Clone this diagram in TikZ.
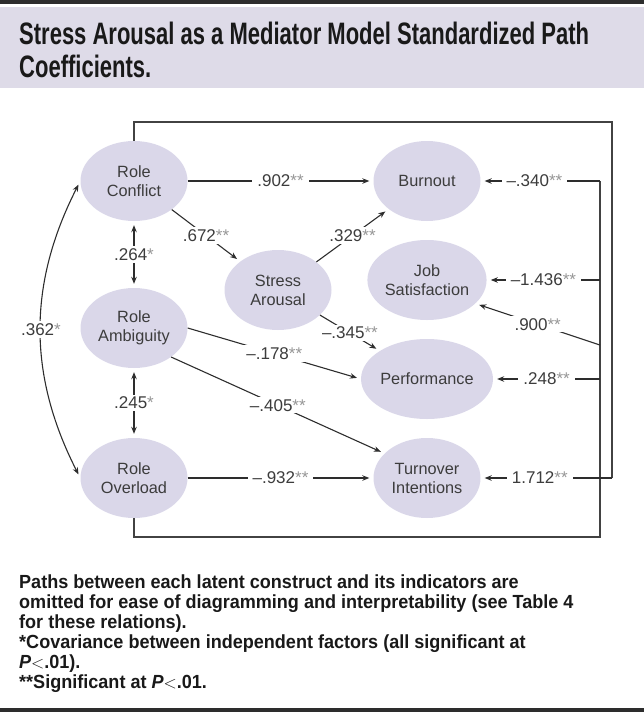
\documentclass[tikz,border=0pt]{standalone}
\usepackage{fontspec}
\setmainfont{Liberation Sans}
\newfontfamily\titlefont[FakeStretch=0.71]{Liberation Sans}
\newfontfamily\capfont[FakeStretch=0.95]{Liberation Sans}
\usetikzlibrary{shapes.geometric,arrows.meta}
\definecolor{band}{RGB}{222,219,232}
\definecolor{ell}{RGB}{218,215,233}
\definecolor{ink}{RGB}{45,45,45}
\definecolor{txt}{RGB}{60,60,60}
\definecolor{stargray}{RGB}{150,150,150}
\newcommand{\sig}[1]{{\color{stargray}#1}}
\begin{document}
\begin{tikzpicture}[x=1pt,y=-1pt,
  lat/.style={ellipse, fill=ell, minimum width=107pt, minimum height=80pt, inner sep=0pt,
    align=center, text=txt, font=\fontsize{16.3}{19}\selectfont},
  lab/.style={fill=white, inner xsep=5pt, inner ysep=2pt, text=txt, font=\fontsize{17}{19}\selectfont},
  arr/.style={draw=ink, line width=1.1pt, -{Stealth[length=7pt,width=5.5pt]}, shorten >=4pt},
  dbl/.style={draw=ink, line width=1.1pt, {Stealth[length=7pt,width=5.5pt]}-{Stealth[length=7pt,width=5.5pt]}, shorten >=4pt, shorten <=4pt},
  frame/.style={draw=ink!90, line width=1.3pt},
  ttl/.style={anchor=base west, inner sep=0pt, text=black!90, font=\titlefont\bfseries\fontsize{31}{32}\selectfont},
  captxt/.style={anchor=base west, inner sep=0pt, text=black!90, font=\capfont\bfseries\fontsize{19}{20}\selectfont}
]
\useasboundingbox (0,0) rectangle (644,713);
\fill[band] (0,7) rectangle (644,88);
\fill[ink] (0,0) rectangle (644,4);
\fill[ink] (0,708) rectangle (644,711.5);

\node[ttl] (title1) at (19,44) {Stress Arousal as a Mediator Model Standardized Path};
\node[ttl] (title2) at (19,77) {Coefficients.};

\node[lat] (RC) at (134,181) {Role\\Conflict};
\node[lat] (RA) at (134,328) {Role\\Ambiguity};
\node[lat] (RO) at (134,478) {Role\\Overload};
\node[lat] (SA) at (278,290) {Stress\\Arousal};
\node[lat] (B)  at (427,181) {Burnout};
\node[lat] (JS) at (427,280) {Job\\Satisfaction};
\node[lat] (P)  at (427,379) {Performance};
\node[lat] (T)  at (427,478) {Turnover\\Intentions};

\coordinate (ot) at (612,122);
\coordinate (ob) at (612,478);
\coordinate (ib) at (600,537);
\coordinate (it) at (600,181);
\coordinate (ij) at (600,345);

\draw[frame] (RC.north) |- (ot) -- (ob);
\draw[frame] (RO.south) |- (ib) -- (it);

\draw[arr] (RC) -- node[lab]{.902\sig{**}} (B);
\draw[arr] (RC) -- node[lab]{.672\sig{**}} (SA);
\draw[arr] (SA) -- node[lab]{.329\sig{**}} (B);
\draw[arr] (SA) -- node[lab]{–.345\sig{**}} (P);
\draw[arr] (RA.east) -- node[lab]{–.178\sig{**}} (P.west);
\draw[arr] (RA.-38) -- node[lab]{–.405\sig{**}} (T.150);
\draw[arr] (RO) -- node[lab]{–.932\sig{**}} (T);

\draw[dbl] (RC) -- node[lab]{.264\sig{*}} (RA);
\draw[dbl] (RA) -- node[lab]{.245\sig{*}} (RO);
\draw[dbl] (RC.west) .. controls (27.8,284) and (27.8,375) .. node[lab]{.362\sig{*}} (RO.west);

\draw[arr] (it) -- node[lab,pos=0.55]{–.340\sig{**}} (B);
\draw[arr] (it |- JS) -- node[lab,pos=0.5]{–1.436\sig{**}} (JS);
\draw[arr] (ij) -- node[lab,pos=0.5]{.900\sig{**}} (JS.-26);
\draw[arr] (it |- P) -- node[lab,pos=0.5]{.248\sig{**}} (P);
\draw[arr] (ob) -- node[lab,pos=0.55]{1.712\sig{**}} (T);

\node[captxt] (cap1) at (19,588) {Paths between each latent construct and its indicators are};
\node[captxt] (cap2) at (19,608) {omitted for ease of diagramming and interpretability (see Table 4};
\node[captxt] (cap3) at (19,628) {for these relations).};
\node[captxt] (cap4) at (19,648) {*Covariance between independent factors (all significant at};
\node[captxt] (cap5) at (19,668) {{\itshape P}\(<\).01).};
\node[captxt] (cap6) at (19,688) {**Significant at {\itshape P}\(<\).01.};
\end{tikzpicture}
\end{document}
